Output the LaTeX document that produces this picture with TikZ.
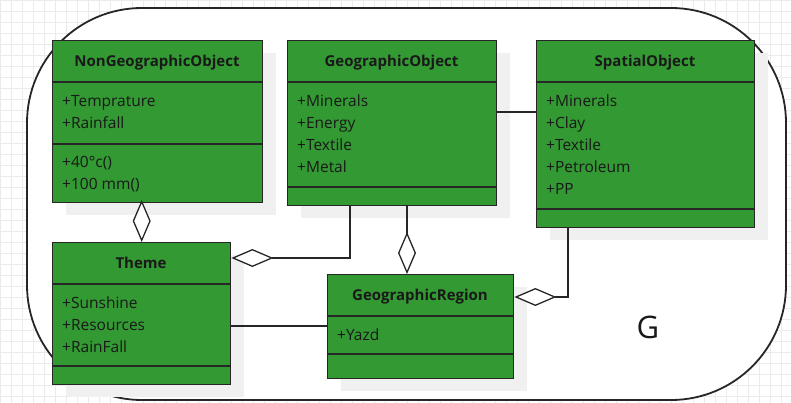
\documentclass[tikz,border=0pt]{standalone}
\usepackage{fontspec}
\setmainfont{Open Sans}
\usetikzlibrary{arrows.meta,calc}
\definecolor{umlgreen}{HTML}{339933}
\definecolor{shadowgray}{HTML}{F0F0F0}
\definecolor{gridgray}{HTML}{EBEBEB}
\tikzset{
  classbox/.style={draw=black!85, line width=1.4pt, fill=umlgreen, anchor=north west, inner sep=0pt},
  shadowbox/.style={fill=shadowgray, draw=none},
  divider/.style={draw=black!85, line width=1.4pt},
  title/.style={font=\fontsize{15}{17}\selectfont\bfseries, text=black!90, inner sep=0pt, anchor=base},
  attr/.style={font=\fontsize{15.5}{17}\selectfont, text=black!90, anchor=base west, inner sep=0pt},
  conn/.style={draw=black!85, line width=1.3pt},
  agg/.style={conn, -{Diamond[fill=white, length=42pt, width=18pt, line width=1.3pt]}},
}
\newcommand{\umlclass}[9]{%
  % #1 name, #2 x, #3 y, #4 width, #5 height, #6 header y, #7 divider y, #8 title
  \fill[shadowbox] ({#2+14},{#3+13}) rectangle ({#2+#4+14},{#3+#5+13});
  \node[classbox, minimum width=#4pt, minimum height=#5pt] (#1) at (#2,#3) {};
  \draw[divider] (#2,#6) -- ({#2+#4},#6);
  \draw[divider] (#2,#7) -- ({#2+#4},#7);
  \node[title] (#1-title) at ({#2+#4/2},{(#3+#6)/2+5.5}) {#8};
}
\begin{document}
\begin{tikzpicture}[x=1pt,y=-1pt]
\useasboundingbox (0,0) rectangle (791,403);
% background grid
\foreach \i in {0,11,...,792} \draw[gridgray, line width=0.6pt] (\i,0) -- (\i,403);
\foreach \j in {0,11,...,403} \draw[gridgray, line width=0.6pt] (0,\j) -- (791,\j);
% outer frame
\draw[fill=white, draw=black!85, line width=1.8pt, rounded corners=115pt] (27,8) rectangle (786,400);
\node[font=\fontsize{31}{34}\selectfont, text=black!90, inner sep=0pt] (glabel) at (648,327) {G};

\umlclass{ngo}{52}{40}{210}{162}{82}{144}{NonGeographicObject}{}
\node[attr] (ngo-a1) at (62,106.5) {+Temprature};
\node[attr] (ngo-a2) at (62,128.5) {+Rainfall};
\node[attr] (ngo-m1) at (62,167.5) {+40°c()};
\node[attr] (ngo-m2) at (62,189.5) {+100 mm()};

\umlclass{geo}{287}{40}{209}{165}{82}{187}{GeographicObject}{}
\node[attr] (geo-a1) at (297,106.5) {+Minerals};
\node[attr] (geo-a2) at (297,128.5) {+Energy};
\node[attr] (geo-a3) at (297,150.5) {+Textile};
\node[attr] (geo-a4) at (297,172.5) {+Metal};

\umlclass{spa}{536}{40}{218}{187}{82}{209}{SpatialObject}{}
\node[attr] (spa-a1) at (546,106.5) {+Minerals};
\node[attr] (spa-a2) at (546,128.5) {+Clay};
\node[attr] (spa-a3) at (546,150.5) {+Textile};
\node[attr] (spa-a4) at (546,172.5) {+Petroleum};
\node[attr] (spa-a5) at (546,194.5) {+PP};

\umlclass{theme}{52}{242}{178}{142}{284}{366}{Theme}{}
\node[attr] (theme-a1) at (62,308.5) {+Sunshine};
\node[attr] (theme-a2) at (62,330.5) {+Resources};
\node[attr] (theme-a3) at (62,352.5) {+RainFall};

\umlclass{reg}{327}{274}{186}{104}{316}{354}{GeographicRegion}{}
\node[attr] (reg-a1) at (337,340.5) {+Yazd};

% connectors
\draw[agg] (theme.north |- ngo.south) -- (theme.north);
\draw[agg] ($(geo.north west |- geo.south)+(63,0)$) |- ($(theme.north east)+(0,16)$);
\draw[agg] ($(geo.north west |- geo.south)+(120,0)$) -- ($(reg.north west)+(80,0)$);
\draw[agg] ($(spa.north west |- spa.south)+(32,0)$) |- ($(reg.north east)+(0,23)$);
\draw[conn] (geo.north east |- 0,112) -- (spa.north west |- 0,112);
\draw[conn] (theme.north east |- 0,326) -- (reg.north west |- 0,326);
\end{tikzpicture}
\end{document}
